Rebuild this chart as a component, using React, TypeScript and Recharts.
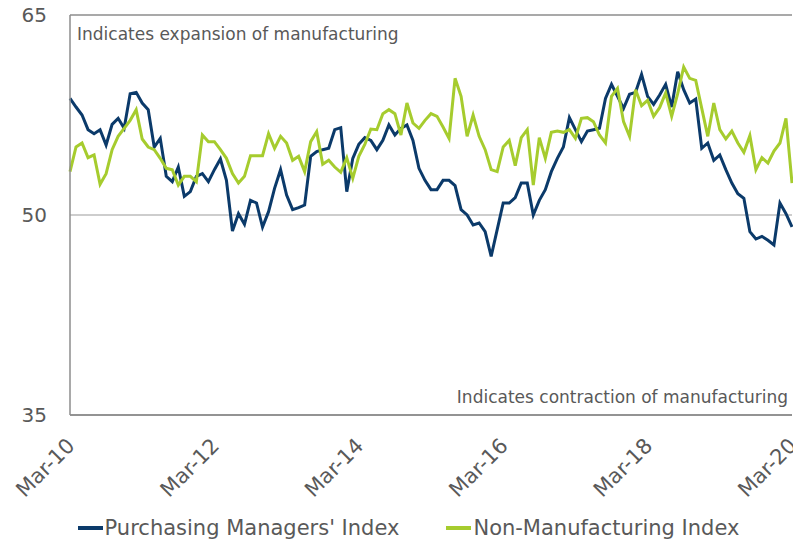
import { Legend, Line, LineChart, ReferenceLine, XAxis, YAxis } from "recharts";

// Monthly readings, Mar-10 .. Mar-20 (121 months)
const pmi = [
  58.75, 58.1, 57.5, 56.4, 56.1, 56.4, 55.25, 56.8, 57.25, 56.5,
  59.1, 59.2, 58.4, 57.9, 55.1, 55.75, 52.9, 52.5, 53.6, 51.4,
  51.75, 52.9, 53.1, 52.5, 53.4, 54.2, 52.6, 48.8, 50.1, 49.3,
  51.1, 50.9, 49.1, 50.25, 52.0, 53.4, 51.5, 50.4, 50.55, 50.75,
  54.4, 54.75, 54.9, 55.0, 56.4, 56.55, 51.75, 54.25, 55.3, 55.8,
  55.6, 54.9, 55.6, 56.75, 56.0, 56.5, 56.75, 55.6, 53.5, 52.6,
  51.9, 51.9, 52.6, 52.6, 52.2, 50.4, 50.0, 49.25, 49.4, 48.75,
  46.9, 48.9, 50.9, 50.9, 51.3, 52.4, 52.4, 50.0, 51.1, 51.9,
  53.25, 54.25, 55.1, 57.3, 56.4, 55.5, 56.3, 56.4, 56.5, 58.75,
  59.8, 58.9, 58.0, 59.05, 59.2, 60.55, 58.9, 58.3, 59.0, 59.8,
  58.1, 60.75, 59.4, 58.4, 58.7, 55.0, 55.4, 54.1, 54.5, 53.4,
  52.4, 51.6, 51.25, 48.75, 48.2, 48.4, 48.1, 47.75, 50.9, 50.1,
  49.1,
];

const nmi = [
  53.25, 55.1, 55.4, 54.3, 54.5, 52.3, 53.1, 54.9, 55.9, 56.5,
  57.1, 57.9, 55.7, 55.1, 54.9, 54.25, 53.5, 53.4, 52.25, 52.9,
  52.9, 52.5, 56.0, 55.5, 55.5, 54.9, 54.25, 53.1, 52.4, 52.9,
  54.45, 54.45, 54.45, 56.1, 55.0, 55.9, 55.4, 54.1, 54.4, 53.25,
  55.5, 56.25, 53.8, 54.1, 53.6, 53.2, 54.3, 52.75, 54.4, 55.3,
  56.45, 56.4, 57.6, 57.9, 57.6, 56.0, 58.4, 56.9, 56.5, 57.1,
  57.6, 57.4, 56.6, 55.75, 60.25, 58.9, 55.9, 57.5, 55.9, 54.9,
  53.4, 53.25, 55.1, 55.6, 53.7, 55.8, 56.4, 52.25, 55.8, 54.25,
  56.2, 56.3, 56.2, 56.4, 55.75, 57.25, 57.3, 57.0, 56.0, 55.4,
  58.9, 59.5, 57.0, 55.9, 59.4, 58.2, 58.6, 57.4, 58.05, 59.15,
  57.4, 59.1, 61.1, 60.25, 60.1, 58.0, 55.9, 58.4, 56.4, 55.7,
  56.3, 55.4, 54.7, 55.95, 53.4, 54.3, 53.9, 54.8, 55.4, 57.25,
  52.4,
];

const MON = ["Jan", "Feb", "Mar", "Apr", "May", "Jun", "Jul", "Aug", "Sep", "Oct", "Nov", "Dec"];
const monthLabels = pmi.map((_, i) => {
  const m = 2 + i;
  return `${MON[m % 12]}-${String(10 + Math.floor(m / 12)).padStart(2, "0")}`;
});

const xTicks = [0, 24, 48, 72, 96, 120];
const yTicks = [35, 50, 65];

const NAVY = "#0b3a6a";
const LIME = "#a6cc2e";
const TEXT = "#595959";
const AXIS = "#8c8c8c";
const FONT = "'DejaVu Sans', Verdana, sans-serif";

const data = pmi.map((v, i) => ({ idx: i, month: monthLabels[i], pmi: v, nmi: nmi[i] }));

function MonthTick({ x, payload }: any) {
  const ax = x + 6;
  const ay = 447;
  return (
    <text
      x={ax}
      y={ay}
      transform={`rotate(-45 ${ax} ${ay})`}
      textAnchor="end"
      fill={TEXT}
      fontSize={21}
      fontFamily={FONT}
    >
      {monthLabels[payload.value]}
    </text>
  );
}

// zone notes sit just inside the plot frame
const expansionNote = ({ viewBox }: any) => (
  <text x={viewBox.x + 7} y={viewBox.y + 25} fill={TEXT} fontSize={17} fontFamily={FONT}>
    Indicates expansion of manufacturing
  </text>
);

const contractionNote = ({ viewBox }: any) => (
  <text
    x={viewBox.x + viewBox.width - 4}
    y={viewBox.y - 12}
    textAnchor="end"
    fill={TEXT}
    fontSize={17}
    fontFamily={FONT}
  >
    Indicates contraction of manufacturing
  </text>
);

function LegendContent() {
  const items = [
    { name: "Purchasing Managers' Index", color: NAVY },
    { name: "Non-Manufacturing Index", color: LIME },
  ];
  return (
    <div
      style={{
        display: "flex",
        justifyContent: "center",
        gap: 47,
        paddingLeft: 25,
        paddingTop: 13,
        fontFamily: FONT,
        fontSize: 21,
        color: TEXT,
      }}
    >
      {items.map((it) => (
        <div key={it.name} style={{ display: "flex", alignItems: "center" }}>
          <span
            style={{ display: "inline-block", width: 25, height: 4, background: it.color, marginRight: 2 }}
          />
          {it.name}
        </div>
      ))}
    </div>
  );
}

export default function App() {
  return (
    <div style={{ width: 793, height: 543, background: "#fff" }}>
      <style>{"body{margin:0}"}</style>
      <LineChart width={793} height={543} data={data} margin={{ top: 15, right: 1, left: 0, bottom: 0 }}>
        <XAxis
          type="number"
          dataKey="idx"
          domain={[0, 120]}
          ticks={xTicks}
          tick={<MonthTick />}
          tickLine={false}
          axisLine={{ stroke: AXIS, strokeWidth: 1.5 }}
          height={88}
          interval={0}
        />
        <YAxis
          domain={[35, 65]}
          ticks={yTicks}
          width={70}
          tickLine={false}
          tickSize={8}
          tickMargin={15}
          axisLine={{ stroke: AXIS, strokeWidth: 1.5 }}
          tick={{ fill: TEXT, fontSize: 20, fontFamily: FONT }}
        />
        <ReferenceLine y={65} stroke={AXIS} strokeWidth={1.5} label={expansionNote} />
        <ReferenceLine y={35} stroke={AXIS} strokeWidth={1.5} label={contractionNote} />
        <ReferenceLine y={50} stroke="#bdbdbd" strokeWidth={1.5} />
        <Line
          type="linear"
          dataKey="pmi"
          stroke={NAVY}
          strokeWidth={3}
          dot={false}
          isAnimationActive={false}
        />
        <Line
          type="linear"
          dataKey="nmi"
          stroke={LIME}
          strokeWidth={3}
          dot={false}
          isAnimationActive={false}
        />
        <Legend verticalAlign="bottom" height={40} content={<LegendContent />} />
      </LineChart>
    </div>
  );
}
